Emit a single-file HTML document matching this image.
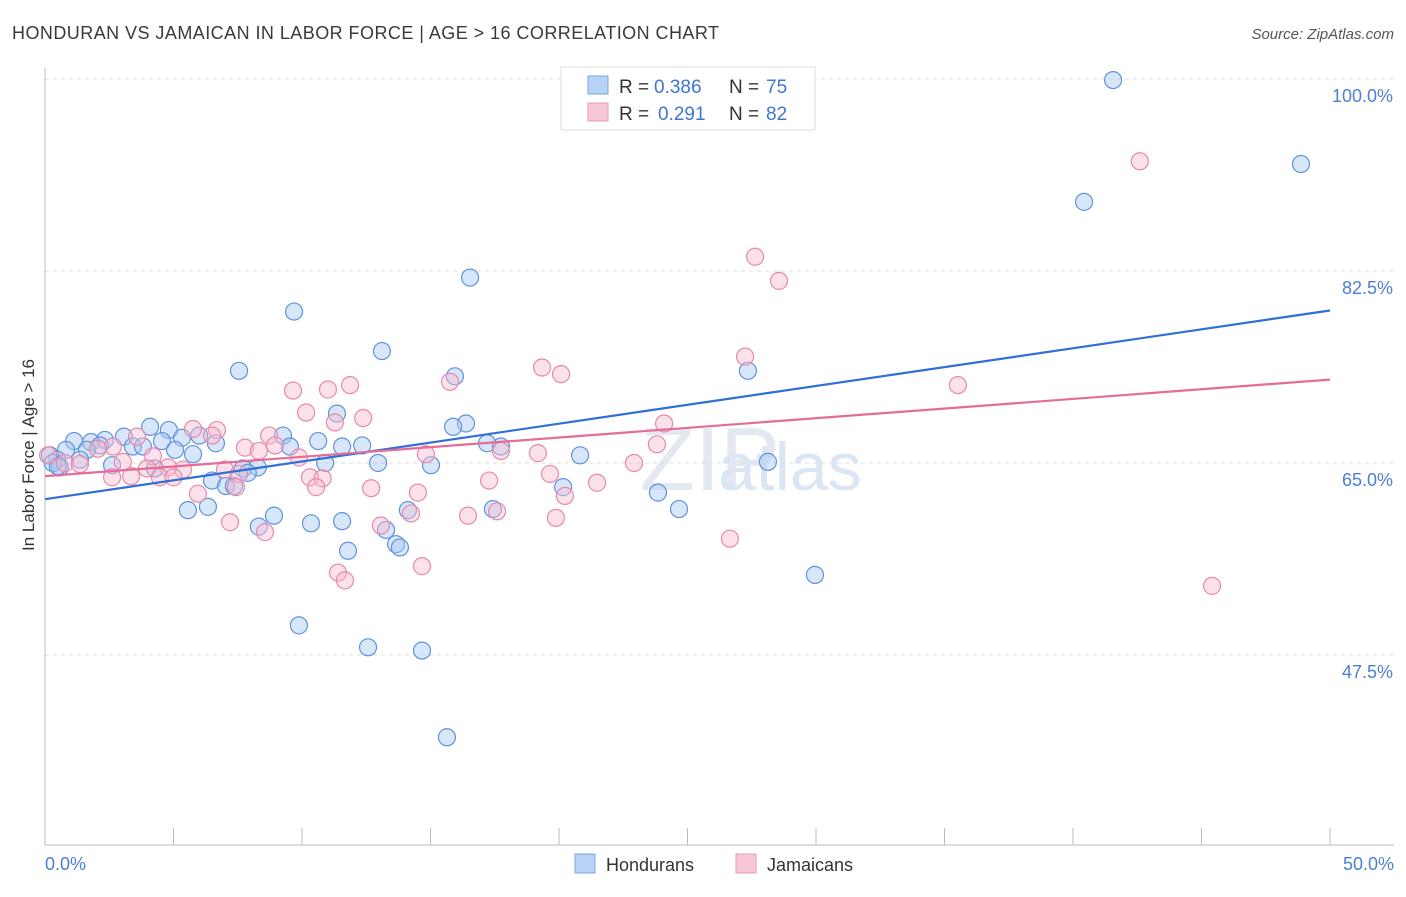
<!DOCTYPE html>
<html><head><meta charset="utf-8"><style>
body{margin:0;background:#fff;font-family:"Liberation Sans",sans-serif}
svg text{font-family:"Liberation Sans",sans-serif}
</style></head><body>
<svg id="chart" width="1406" height="892">
<text x="12" y="39" font-size="18" fill="#3a3a3a" letter-spacing="0.45">HONDURAN VS JAMAICAN IN LABOR FORCE | AGE &gt; 16 CORRELATION CHART</text>
<text x="1394" y="39" font-size="15" fill="#555" font-style="italic" text-anchor="end">Source: ZipAtlas.com</text>
<text x="640" y="490" font-size="90" fill="#e4e9f1" font-family="Liberation Serif">ZIP</text>
<text x="718" y="490" font-size="68" fill="#dbe6f4">atlas</text>
<g id="grid"></g>
<g id="axes"></g>
<g id="pts"></g>
<g id="lines"></g>
<text transform="translate(34,455) rotate(-90)" font-size="17" fill="#333" text-anchor="middle">In Labor Force | Age &gt; 16</text>
<text x="45" y="870" font-size="18" fill="#4a7fd4">0.0%</text>
<text x="1394" y="870" font-size="18" fill="#4a7fd4" text-anchor="end">50.0%</text>
<g>
<rect x="561" y="67" width="254" height="63" fill="#fff" stroke="#ddd"/>
<rect x="588" y="76" width="20" height="18" fill="#b8d2f5" stroke="#7ca6e3"/>
<rect x="588" y="103" width="20" height="18" fill="#f9c8d8" stroke="#eb9ab6"/>
<text x="619" y="93" font-size="19" fill="#333">R =</text>
<text x="654" y="93" font-size="19" fill="#3f76d0">0.386</text>
<text x="729" y="93" font-size="19" fill="#333">N =</text>
<text x="766" y="93" font-size="19" fill="#3f76d0">75</text>
<text x="619" y="120" font-size="19" fill="#333">R =</text>
<text x="658" y="120" font-size="19" fill="#3f76d0">0.291</text>
<text x="729" y="120" font-size="19" fill="#333">N =</text>
<text x="766" y="120" font-size="19" fill="#3f76d0">82</text>
</g>
<g>
<rect x="575" y="854" width="20" height="19" fill="#b8d2f5" stroke="#7ca6e3"/>
<text x="606" y="871" font-size="18" fill="#333">Hondurans</text>
<rect x="736" y="854" width="20" height="19" fill="#f9c8d8" stroke="#eb9ab6"/>
<text x="767" y="871" font-size="18" fill="#333">Jamaicans</text>
</g>
</svg>
<script>
const yTicks=[100,82.5,65,47.5];
const blueX=[41.56,48.87,40.43,16.54,9.69,13.11,7.55,15.95,27.35,11.36,16.38,15.88,4.09,4.82,3.07,5.33,2.33,1.79,1.13,4.55,6.65,6.0,9.26,10.63,11.56,12.34,9.53,17.2,17.74,3.42,3.81,2.14,1.63,0.82,5.06,5.76,20.82,0.19,0.47,1.36,10.9,12.96,15.02,28.13,2.61,0.58,4.28,7.7,8.28,7.89,6.5,7.04,7.35,20.16,23.85,5.56,6.34,8.91,17.43,24.67,14.12,8.32,10.35,11.56,13.27,13.66,13.81,11.79,29.96,9.88,12.57,14.67,15.64,0.3,0.5];
const blueY=[99.9,92.25,88.8,81.9,78.8,75.2,73.4,72.9,73.4,69.5,68.6,68.3,68.3,68.0,67.4,67.3,67.1,66.9,67.0,67.0,66.8,67.5,67.5,67.0,66.5,66.6,66.5,66.8,66.5,66.5,66.5,66.6,66.2,66.2,66.2,65.8,65.7,65.7,65.3,65.3,65.0,65.0,64.8,65.1,64.8,64.6,64.5,64.5,64.6,64.1,63.4,62.9,62.9,62.8,62.3,60.7,61.0,60.2,60.8,60.8,60.7,59.2,59.5,59.7,58.9,57.6,57.3,57.0,54.8,50.2,48.2,47.9,40.0,65.0,64.7];
const pinkX=[42.6,27.63,28.56,27.24,35.52,19.34,20.08,15.76,9.65,11.01,11.87,10.16,12.38,11.28,24.09,5.76,6.69,6.5,8.72,3.58,8.95,7.78,8.32,2.65,2.06,23.81,17.74,19.18,14.82,9.88,4.2,3.03,0.78,1.36,22.92,4.79,3.97,5.37,7.0,7.55,19.65,4.47,5.0,3.35,2.61,10.31,10.8,17.28,7.43,10.55,12.69,21.48,5.95,14.51,20.23,14.24,16.46,17.59,19.88,7.2,13.07,8.56,26.65,14.67,11.4,11.67,45.41,0.12];
const pinkY=[92.5,83.8,81.6,74.7,72.1,73.7,73.1,72.4,71.6,71.7,72.1,69.6,69.1,68.7,68.6,68.1,68.0,67.5,67.5,67.4,66.6,66.4,66.1,66.5,66.3,66.7,66.1,65.9,65.8,65.5,65.6,65.1,65.0,64.9,65.0,64.6,64.5,64.4,64.4,64.0,64.0,63.7,63.7,63.8,63.7,63.7,63.6,63.4,62.8,62.8,62.7,63.2,62.2,62.3,62.0,60.4,60.2,60.6,60.0,59.6,59.3,58.7,58.1,55.6,55.0,54.3,53.8,65.7];
const blueTrend=[61.7,78.9];
const pinkTrend=[63.8,72.6];
const NS='http://www.w3.org/2000/svg';
const xs=v=>45+v/50*1285;
const ys=v=>79+(100-v)*10.971;
function mk(t,a,p){const e=document.createElementNS(NS,t);for(const k in a)e.setAttribute(k,a[k]);p.appendChild(e);return e;}
const grid=document.getElementById('grid'),axes=document.getElementById('axes'),pts=document.getElementById('pts'),lines=document.getElementById('lines');
yTicks.forEach(t=>{
 const l=mk('line',{x1:45,x2:1394,y1:ys(t),y2:ys(t),stroke:'#ddd','stroke-dasharray':'4,4'},grid);
 
 
 const tx=mk('text',{x:1393,y:ys(t)+23,'font-size':18,fill:'#4a7fd4','text-anchor':'end'},grid);
 tx.textContent=t.toFixed(1)+'%';
 
 
});
const ax=mk('line',{x1:45,x2:1394,y1:845,y2:845,stroke:'#bbb'},axes);


const ay=mk('line',{x1:45,x2:45,y1:68,y2:845,stroke:'#bbb'},axes);


for(let i=0;i<=10;i++){const x=xs(i*5);const tk=mk('line',{x1:x,x2:x,y1:828,y2:845,stroke:'#bbb'},axes);
 
 }
function dots(X,Y,fill,stroke,name){X.forEach((v,i)=>{const c=mk('circle',{cx:xs(v),cy:ys(Y[i]),r:8.5,fill:fill,'fill-opacity':0.45,stroke:stroke,'stroke-width':1.2},pts);
 
 });}
dots(blueX,blueY,'#a9c8f2','#5f93dc','honduran-point');
dots(pinkX,pinkY,'#f7bcd0','#e889ab','jamaican-point');
const bl=mk('line',{x1:xs(0),x2:xs(50),y1:ys(blueTrend[0]),y2:ys(blueTrend[1]),stroke:'#2f6fd6','stroke-width':2.2},lines);


const pl=mk('line',{x1:xs(0),x2:xs(50),y1:ys(pinkTrend[0]),y2:ys(pinkTrend[1]),stroke:'#e56b98','stroke-width':2.2},lines);


</script>
</body></html>
